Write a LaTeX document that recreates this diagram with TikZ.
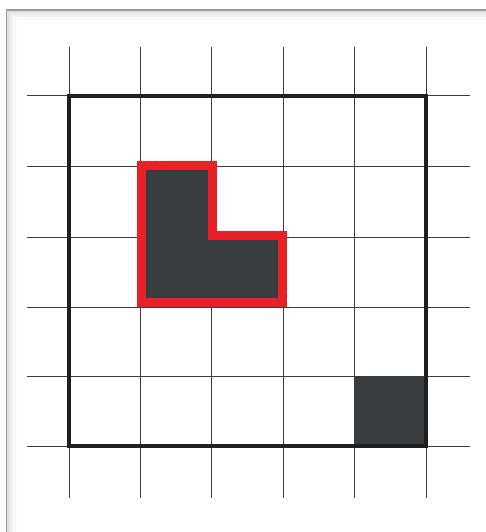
\documentclass[tikz,border=0pt]{standalone}
\definecolor{cellfill}{HTML}{3A3D40}
\definecolor{gridc}{HTML}{3C3C3C}
\definecolor{redc}{HTML}{E82127}
\definecolor{framec}{HTML}{9A9A9A}
\tikzset{
  gridline/.style={draw=gridc, line width=1pt},
  boldframe/.style={draw=black!88, line width=3.2pt},
  cell/.style={fill=cellfill},
  redline/.style={draw=redc, line width=9pt, line join=miter},
}
\begin{document}
\begin{tikzpicture}[x=1pt,y=-1pt]
\useasboundingbox (0,0) rectangle (485,532);
\fill[white] (0,0) rectangle (485,532);
% shadow frame
\foreach \i/\c in {1/88,3/92,5/95,8/97,12/99}{
  \draw[black!\the\numexpr100-\c\relax, line width=2pt] (7+\i,540) -- (7+\i,11+\i) -- (500,11+\i);
}
\draw[framec, line width=1.2pt] (6.5,540) -- (6.5,10) -- (500,10);
% filled cells
\fill[cell] (140,166) rectangle (211,237);
\fill[cell] (140,237) rectangle (283,307);
\fill[cell] (354,376) rectangle (426,446);
% grid lines
\foreach \x in {69,140,211,283,354,426}{
  \draw[gridline] (\x,47) -- (\x,498);
}
\foreach \y in {96,166,237,307,376,446}{
  \draw[gridline] (27,\y) -- (470,\y);
}
% bold frame
\draw[boldframe] (69,96) rectangle (426,446);
% red outline
\draw[redline] (141.5,165.5) -- (212.5,165.5) -- (212.5,235.5) -- (282,235.5) -- (282,302.5) -- (141.5,302.5) -- cycle;
\end{tikzpicture}
\end{document}
